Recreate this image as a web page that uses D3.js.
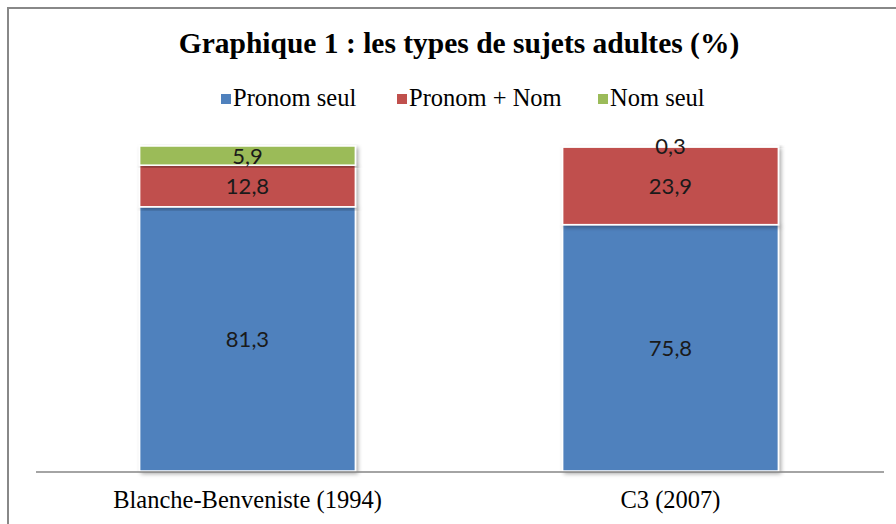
<!DOCTYPE html>
<html>
<head>
<meta charset="utf-8">
<script src="https://cdn.jsdelivr.net/npm/d3@7"></script>
<style>
  body { margin: 0; background: #fff; }
</style>
</head>
<body>
<svg width="896" height="524"></svg>
<script>
const svg = d3.select('svg');

const categories = ['Blanche-Benveniste (1994)', 'C3 (2007)'];
const seriesNames = ['Pronom seul', 'Pronom + Nom', 'Nom seul'];
const pronomSeul = [81.3, 75.8];
const pronomNom = [12.8, 23.9];
const nomSeul = [5.9, 0.3];
const colors = ['#4F81BD', '#C0504D', '#9BBB59'];

const table = categories.map((c, i) => ({
	cat: c,
	'Pronom seul': pronomSeul[i],
	'Pronom + Nom': pronomNom[i],
	'Nom seul': nomSeul[i]
}));

const stack = d3.stack().keys(seriesNames)(table);

const x = d3.scaleBand().domain(categories).range([36, 882]).paddingInner(0.49).paddingOuter(0.245);
const y = d3.scaleLinear().domain([0, 100]).range([471, 146]);

// frame
svg.append('rect')
	.attr('x', 8).attr('y', 8)
	.attr('width', 900).attr('height', 530)
	.attr('fill', 'none')
	.attr('stroke', '#888')
	.attr('stroke-width', 2);

const defs = svg.append('defs');
defs.append('filter').attr('id', 'shadow')
	.attr('x', '-10%').attr('y', '-10%').attr('width', '120%').attr('height', '120%')
	.append('feDropShadow')
		.attr('dx', 2).attr('dy', 2)
		.attr('stdDeviation', 2)
		.attr('flood-color', '#000')
		.attr('flood-opacity', 0.35);

// title
svg.append('text')
	.text('Graphique 1 : les types de sujets adultes (%)')
	.attr('x', 459).attr('y', 53)
	.attr('text-anchor', 'middle')
	.attr('font-family', 'Liberation Serif, serif')
	.attr('font-weight', 'bold')
	.attr('font-size', '29.5px')
	.attr('fill', '#000');

// legend
const legendX = [221, 397, 598];
const legend = svg.selectAll('.legend').data(seriesNames)
	.enter().append('g')
		.attr('class', 'legend')
		.attr('transform', (d, i) => `translate(${legendX[i]},99)`);
legend.append('rect')
	.attr('x', 0).attr('y', -5)
	.attr('width', 10).attr('height', 10)
	.attr('fill', (d, i) => colors[i]);
legend.append('text')
	.text(d => d)
	.attr('x', 12).attr('y', 7)
	.attr('font-family', 'Liberation Serif, serif')
	.attr('font-size', '24.5px')
	.attr('fill', '#000');

// bars
const groups = svg.selectAll('.series').data(stack)
	.enter().append('g')
		.attr('class', 'series')
		.attr('fill', (d, i) => colors[i]);

groups.selectAll('rect').data(d => d)
	.enter().append('rect')
		.attr('x', d => x(d.data.cat))
		.attr('y', d => y(d[1]))
		.attr('width', x.bandwidth())
		.attr('height', d => y(d[0]) - y(d[1]))
		.attr('stroke', '#fff')
		.attr('stroke-width', 1.5)
		.attr('filter', 'url(#shadow)');

// value labels
groups.selectAll('text').data(d => d)
	.enter().append('text')
		.text(d => String(+(d[1] - d[0]).toFixed(1)).replace('.', ','))
		.attr('x', d => x(d.data.cat) + x.bandwidth() / 2)
		.attr('y', d => (y(d[0]) + y(d[1])) / 2 + 8)
		.attr('text-anchor', 'middle')
		.attr('font-family', 'Lato, Open Sans, sans-serif')
		.attr('font-size', '22px')
		.attr('fill', '#1a1a1a');

// axis
const xAxis = svg.append('g')
	.attr('transform', 'translate(0,472)')
	.call(d3.axisBottom(x).tickSize(0).tickPadding(19));
xAxis.select('.domain').attr('stroke', '#868686').attr('stroke-width', 1.5).attr('d', 'M36,0H884');
xAxis.selectAll('text')
	.attr('font-family', 'Liberation Serif, serif')
	.attr('font-size', '24.5px')
	.attr('fill', '#000');
</script>
</body>
</html>
